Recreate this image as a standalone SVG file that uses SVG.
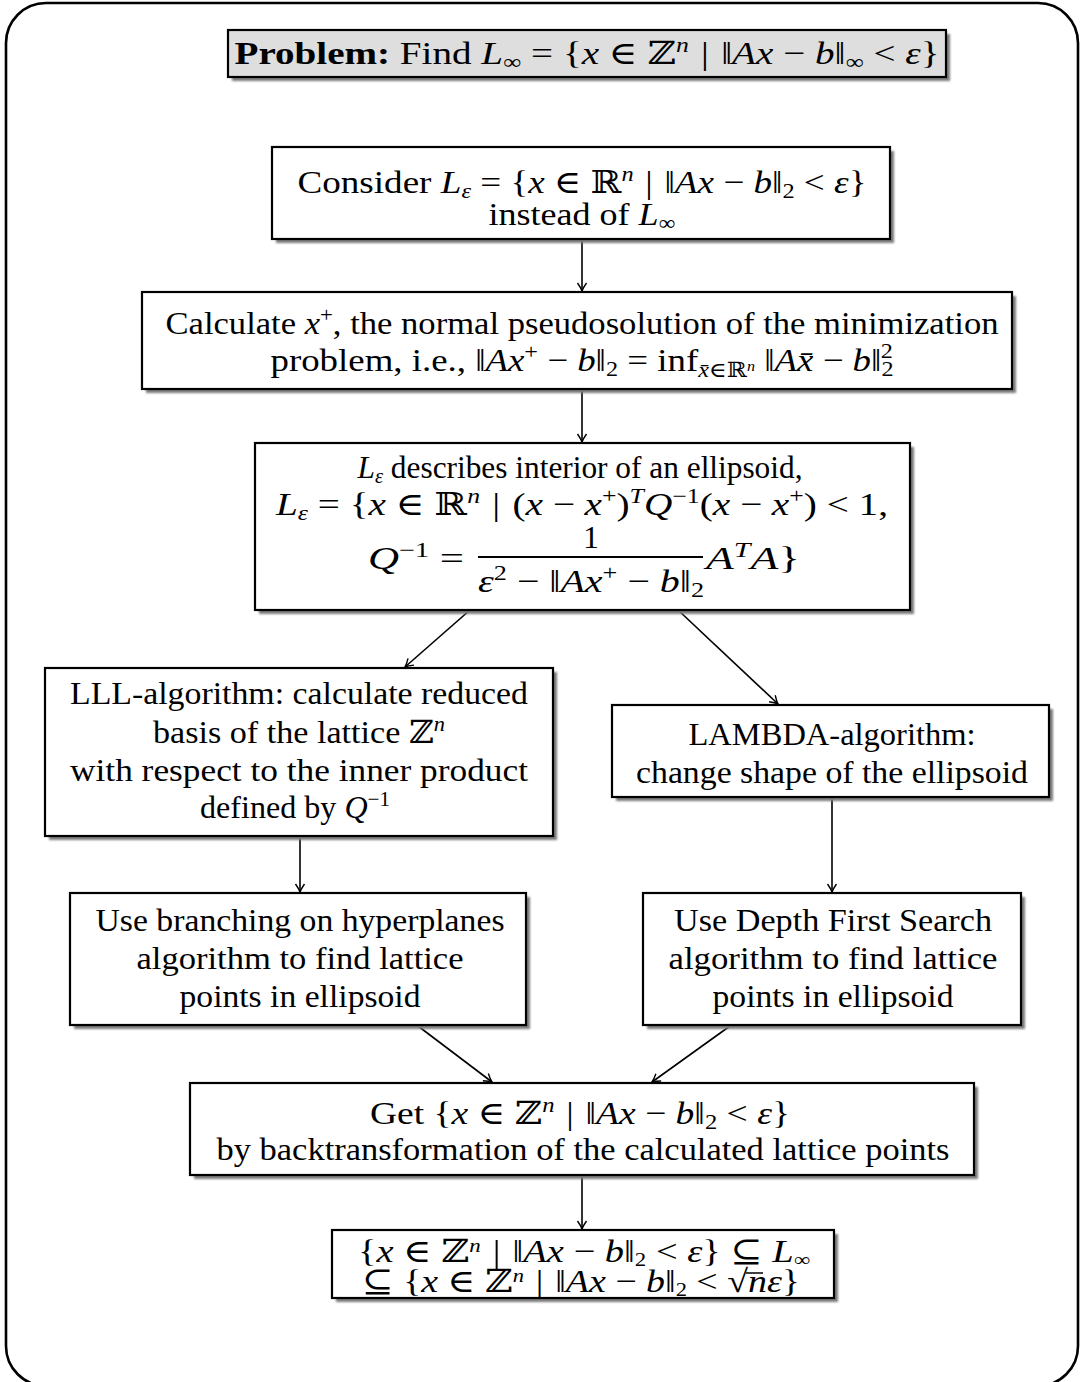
<svg xmlns="http://www.w3.org/2000/svg" width="1080" height="1382" viewBox="0 0 1080 1382">
  <style>
    text { font-family: "Liberation Serif", "DejaVu Serif", serif; font-size: 32px; fill: #000; }
    .i { font-style: italic; }
    .s { font-size: 21px; }
    .b { font-weight: bold; }
    .box { fill: #fff; stroke: #000; stroke-width: 2.2; }
    .gray { fill: #dedede; }
    .shadow { fill: #7a7a7a; filter: url(#soft); }
    .conn { stroke: #000; stroke-width: 1.6; fill: none; marker-end: url(#arr); }
    .rule { stroke: #000; stroke-width: 2; }
  </style>
  <defs>
    <filter id="soft" x="-5%" y="-20%" width="110%" height="140%">
      <feGaussianBlur stdDeviation="1.3"/>
    </filter>
    <marker id="arr" viewBox="-9 -6 11 12" refX="0" refY="0" markerWidth="11" markerHeight="12" orient="auto" markerUnits="userSpaceOnUse">
      <path d="M-8,-4.5 Q-3,-1 0,0 Q-3,1 -8,4.5" fill="none" stroke="#000" stroke-width="1.4"/>
    </marker>
  </defs>

  <!-- outer frame -->
  <rect x="6" y="3" width="1072" height="1383" rx="40" ry="40" fill="#fff" stroke="#000" stroke-width="2.6"/>

  <!-- connectors -->
  <g id="connectors">
    <line class="conn" x1="582" y1="239" x2="582" y2="291"/>
    <line class="conn" x1="582" y1="389" x2="582" y2="442"/>
    <line class="conn" x1="470" y1="610" x2="405" y2="667"/>
    <line class="conn" x1="678" y1="610" x2="778" y2="704"/>
    <line class="conn" x1="300" y1="836" x2="300" y2="892"/>
    <line class="conn" x1="832" y1="797" x2="832" y2="892"/>
    <line class="conn" x1="418" y1="1026" x2="492" y2="1082"/>
    <line class="conn" x1="730" y1="1026" x2="652" y2="1082"/>
    <line class="conn" x1="582" y1="1175" x2="582" y2="1229"/>
  </g>

  <!-- problem statement -->
  <g id="problem">
    <rect class="shadow" x="232" y="34" width="718" height="47"/>
    <rect class="box gray" x="228" y="30" width="718" height="47"/>
    <text x="587" y="64" text-anchor="middle" textLength="705" lengthAdjust="spacingAndGlyphs"><tspan class="b">Problem:</tspan> Find <tspan class="i">L</tspan><tspan class="s" dy="5">∞</tspan><tspan dy="-5"> = {</tspan><tspan class="i">x</tspan> ∈ ℤ<tspan class="s i" dy="-12">n</tspan><tspan dy="12" dx="10">|</tspan><tspan dx="10">‖</tspan><tspan class="i">Ax</tspan> − <tspan class="i">b</tspan>‖<tspan class="s" dy="5">∞</tspan><tspan dy="-5"> &lt; </tspan><tspan class="i">ε</tspan>}</text>
  </g>

  <!-- relaxation to the 2-norm -->
  <g id="consider">
    <rect class="shadow" x="276" y="151" width="618" height="92"/>
    <rect class="box" x="272" y="147" width="618" height="92"/>
    <text x="582" y="193" text-anchor="middle" textLength="569" lengthAdjust="spacingAndGlyphs">Consider <tspan class="i">L</tspan><tspan class="s i" dy="5">ε</tspan><tspan dy="-5"> = {</tspan><tspan class="i">x</tspan> ∈ ℝ<tspan class="s i" dy="-12">n</tspan><tspan dy="12" dx="10">|</tspan><tspan dx="10">‖</tspan><tspan class="i">Ax</tspan> − <tspan class="i">b</tspan>‖<tspan class="s" dy="5">2</tspan><tspan dy="-5"> &lt; </tspan><tspan class="i">ε</tspan>}</text>
    <text x="582" y="225" text-anchor="middle" textLength="187" lengthAdjust="spacingAndGlyphs">instead of <tspan class="i">L</tspan><tspan class="s" dy="5">∞</tspan></text>
  </g>

  <!-- pseudosolution -->
  <g id="pseudosolution">
    <rect class="shadow" x="146" y="296" width="870" height="97"/>
    <rect class="box" x="142" y="292" width="870" height="97"/>
    <text x="582" y="334" text-anchor="middle" textLength="833" lengthAdjust="spacingAndGlyphs">Calculate <tspan class="i">x</tspan><tspan class="s" dy="-12">+</tspan><tspan dy="12">, the normal pseudosolution of the minimization</tspan></text>
    <text x="582" y="371" text-anchor="middle" textLength="623" lengthAdjust="spacingAndGlyphs">problem, i.e., ‖<tspan class="i">Ax</tspan><tspan class="s" dy="-12">+</tspan><tspan dy="12"> − </tspan><tspan class="i">b</tspan>‖<tspan class="s" dy="5">2</tspan><tspan dy="-5"> = inf</tspan><tspan class="s" dy="6"><tspan class="i">x̄</tspan>∈ℝ<tspan class="i" font-size="14" dy="-6">n</tspan></tspan><tspan dy="0"> ‖</tspan><tspan class="i">Ax̄</tspan> − <tspan class="i">b</tspan>‖<tspan class="s" dy="5">2</tspan><tspan class="s" dx="-11" dy="-18">2</tspan></text>
  </g>

  <!-- ellipsoid description -->
  <g id="ellipsoid">
    <rect class="shadow" x="259" y="447" width="655" height="167"/>
    <rect class="box" x="255" y="443" width="655" height="167"/>
    <text x="580" y="478" text-anchor="middle" textLength="445" lengthAdjust="spacingAndGlyphs"><tspan class="i">L</tspan><tspan class="s i" dy="5">ε</tspan><tspan dy="-5"> describes interior of an ellipsoid,</tspan></text>
    <text x="582" y="515" text-anchor="middle" textLength="612" lengthAdjust="spacingAndGlyphs"><tspan class="i">L</tspan><tspan class="s i" dy="5">ε</tspan><tspan dy="-5"> = {</tspan><tspan class="i">x</tspan> ∈ ℝ<tspan class="s i" dy="-12">n</tspan><tspan dy="12" dx="10">|</tspan><tspan dx="10">(</tspan><tspan class="i">x</tspan> − <tspan class="i">x</tspan><tspan class="s" dy="-12">+</tspan><tspan dy="12">)</tspan><tspan class="s i" dy="-12">T</tspan><tspan class="i" dy="12">Q</tspan><tspan class="s" dy="-12">−1</tspan><tspan dy="12">(</tspan><tspan class="i">x</tspan> − <tspan class="i">x</tspan><tspan class="s" dy="-12">+</tspan><tspan dy="12">) &lt; 1,</tspan></text>
    <text x="464" y="569" text-anchor="end" textLength="96" lengthAdjust="spacingAndGlyphs"><tspan class="i">Q</tspan><tspan class="s" dy="-12">−1</tspan><tspan dy="12"> =</tspan></text>
    <text x="591" y="548" text-anchor="middle">1</text>
    <line class="rule" x1="478" y1="557" x2="703" y2="557"/>
    <text x="591" y="592" text-anchor="middle" textLength="226" lengthAdjust="spacingAndGlyphs"><tspan class="i">ε</tspan><tspan class="s" dy="-12">2</tspan><tspan dy="12"> − ‖</tspan><tspan class="i">Ax</tspan><tspan class="s" dy="-12">+</tspan><tspan dy="12"> − </tspan><tspan class="i">b</tspan>‖<tspan class="s" dy="5">2</tspan></text>
    <text x="706" y="569" textLength="94" lengthAdjust="spacingAndGlyphs"><tspan class="i">A</tspan><tspan class="s i" dy="-12">T</tspan><tspan class="i" dy="12">A</tspan>}</text>
  </g>

  <!-- LLL branch -->
  <g id="lll">
    <rect class="shadow" x="49" y="672" width="508" height="168"/>
    <rect class="box" x="45" y="668" width="508" height="168"/>
    <text x="299" y="704" text-anchor="middle" textLength="458" lengthAdjust="spacingAndGlyphs">LLL-algorithm: calculate reduced</text>
    <text x="299" y="743" text-anchor="middle" textLength="292" lengthAdjust="spacingAndGlyphs">basis of the lattice ℤ<tspan class="s i" dy="-12">n</tspan></text>
    <text x="299" y="781" text-anchor="middle" textLength="458" lengthAdjust="spacingAndGlyphs">with respect to the inner product</text>
    <text x="295" y="818" text-anchor="middle" textLength="190" lengthAdjust="spacingAndGlyphs">defined by <tspan class="i">Q</tspan><tspan class="s" dy="-12">−1</tspan></text>
  </g>

  <!-- LAMBDA branch -->
  <g id="lambda">
    <rect class="shadow" x="616" y="709" width="437" height="92"/>
    <rect class="box" x="612" y="705" width="437" height="92"/>
    <text x="832" y="745" text-anchor="middle" textLength="287" lengthAdjust="spacingAndGlyphs">LAMBDA-algorithm:</text>
    <text x="832" y="783" text-anchor="middle" textLength="392" lengthAdjust="spacingAndGlyphs">change shape of the ellipsoid</text>
  </g>

  <!-- hyperplane branching -->
  <g id="hyperplanes">
    <rect class="shadow" x="74" y="897" width="456" height="132"/>
    <rect class="box" x="70" y="893" width="456" height="132"/>
    <text x="300" y="931" text-anchor="middle" textLength="409" lengthAdjust="spacingAndGlyphs">Use branching on hyperplanes</text>
    <text x="300" y="969" text-anchor="middle" textLength="327" lengthAdjust="spacingAndGlyphs">algorithm to find lattice</text>
    <text x="300" y="1007" text-anchor="middle" textLength="241" lengthAdjust="spacingAndGlyphs">points in ellipsoid</text>
  </g>

  <!-- depth first search -->
  <g id="dfs">
    <rect class="shadow" x="647" y="897" width="378" height="132"/>
    <rect class="box" x="643" y="893" width="378" height="132"/>
    <text x="833" y="931" text-anchor="middle" textLength="318" lengthAdjust="spacingAndGlyphs">Use Depth First Search</text>
    <text x="833" y="969" text-anchor="middle" textLength="329" lengthAdjust="spacingAndGlyphs">algorithm to find lattice</text>
    <text x="833" y="1007" text-anchor="middle" textLength="241" lengthAdjust="spacingAndGlyphs">points in ellipsoid</text>
  </g>

  <!-- back transformation -->
  <g id="backtransform">
    <rect class="shadow" x="194" y="1087" width="784" height="92"/>
    <rect class="box" x="190" y="1083" width="784" height="92"/>
    <text x="580" y="1124" text-anchor="middle" textLength="420" lengthAdjust="spacingAndGlyphs">Get {<tspan class="i">x</tspan> ∈ ℤ<tspan class="s i" dy="-12">n</tspan><tspan dy="12" dx="10">|</tspan><tspan dx="10">‖</tspan><tspan class="i">Ax</tspan> − <tspan class="i">b</tspan>‖<tspan class="s" dy="5">2</tspan><tspan dy="-5"> &lt; </tspan><tspan class="i">ε</tspan>}</text>
    <text x="583" y="1160" text-anchor="middle" textLength="733" lengthAdjust="spacingAndGlyphs">by backtransformation of the calculated lattice points</text>
  </g>

  <!-- result bounds -->
  <g id="result">
    <rect class="shadow" x="336" y="1234" width="502" height="68"/>
    <rect class="box" x="332" y="1230" width="502" height="68"/>
    <text x="584" y="1262" text-anchor="middle" font-size="28" textLength="452" lengthAdjust="spacingAndGlyphs">{<tspan class="i">x</tspan> ∈ ℤ<tspan font-size="19" class="i" dy="-10">n</tspan><tspan dy="10" dx="10">|</tspan><tspan dx="10">‖</tspan><tspan class="i">Ax</tspan> − <tspan class="i">b</tspan>‖<tspan font-size="19" dy="4">2</tspan><tspan dy="-4"> &lt; </tspan><tspan class="i">ε</tspan>} ⊆ <tspan class="i">L</tspan><tspan font-size="19" dy="4">∞</tspan></text>
    <text x="581" y="1292" text-anchor="middle" font-size="28" textLength="438" lengthAdjust="spacingAndGlyphs">⊆ {<tspan class="i">x</tspan> ∈ ℤ<tspan font-size="19" class="i" dy="-10">n</tspan><tspan dy="10" dx="10">|</tspan><tspan dx="10">‖</tspan><tspan class="i">Ax</tspan> − <tspan class="i">b</tspan>‖<tspan font-size="19" dy="4">2</tspan><tspan dy="-4"> &lt; √</tspan><tspan class="i">n</tspan><tspan class="i">ε</tspan>}</text>
    <line x1="746" y1="1273" x2="763" y2="1273" stroke="#000" stroke-width="1.5"/>
  </g>
</svg>
